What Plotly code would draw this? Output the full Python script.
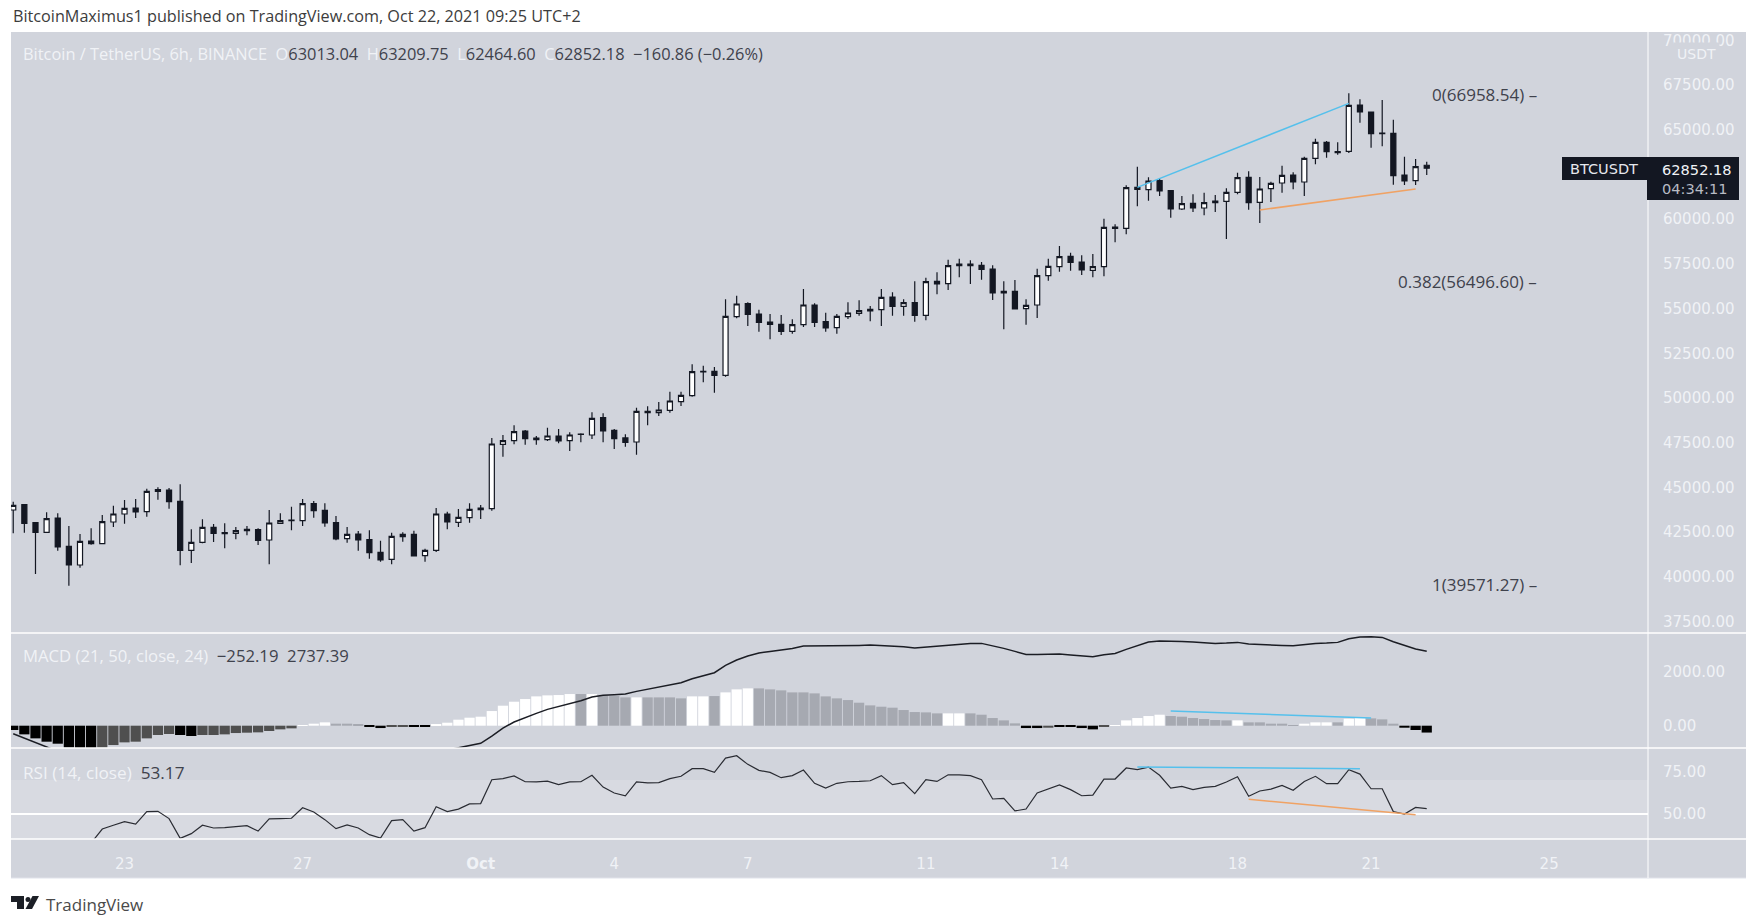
import pandas as pd
import plotly.graph_objects as go

W, H = 1753, 920

OPEN = [43743,44041,43035,42495,43296,41712,40669,42010,41861,43072,43520,43855,43650,44880,44861,44227,41489,41936,42774,42476,42439,42663,42644,42067,42998,43184,43147,44097,43724,43035,42141,42402,42085,41377,40986,42253,42383,41191,41489,43520,43054,43315,43855,43818,47413,47618,48158,47767,47674,47879,47618,47972,47935,48905,48197,47769,47545,49259,49185,49315,49799,50135,51495,51495,51271,54550,55277,54699,54252,54122,53730,54103,55202,54271,53935,54550,54736,54960,54941,55649,55127,55332,54625,56525,56394,57494,57494,57419,57214,55966,55966,54997,55202,56843,57346,57924,57607,57141,57346,59563,59489,61780,61650,62153,61594,60569,60886,60625,61016,60998,61501,62339,60942,61706,62022,62470,62078,63401,64295,63774,63792,66382,65991,64780,64798,62470,62153,63013.04]
HIGH = [44209,44078,43054,43613,43557,42849,42402,42719,43464,43985,44302,44358,44935,45010,44973,45178,42663,43221,42961,42998,42793,42849,42719,43743,43557,43929,44358,44246,44116,43408,42793,42569,42607,42029,42476,42495,42588,41582,43855,43650,43799,44116,44022,47767,47935,48475,48214,47879,48345,48270,48084,48028,49202,49147,48272,47974,49464,49539,49781,50358,50358,51886,51811,51737,55519,55724,55351,54941,54699,54643,54401,56096,55295,54774,54699,55351,55463,55146,56096,55910,55519,56525,56730,57028,57736,57792,57698,57605,57419,56525,56599,55519,57233,57794,58501,58129,57980,58054,60029,59712,61892,62935,62339,62283,61631,61296,61389,61482,61352,61724,62600,62675,62358,62097,62991,62619,63494,64500,64370,64295,67034,66699,66009,66661,65562,63494,63364,63209.75]
LOW = [42439,42476,40166,42495,41470,39514,40520,41805,41861,42793,42979,43296,43370,44321,43818,40650,40781,41880,41955,41601,42104,42327,41787,40706,42998,42607,42849,43315,42812,42048,41917,41470,41023,40855,40706,41973,41172,40855,41396,42663,42793,43035,43240,43706,46724,47413,47395,47395,47600,47469,47041,47525,47711,47527,47154,47284,46837,48477,48998,49185,49557,50079,50880,50302,51197,54457,54028,53712,53283,53525,53600,53973,53973,53712,53600,54420,54606,54289,54028,54606,54606,54270,54345,55798,56040,56748,56376,56618,55482,53842,54960,54103,54475,56564,57067,57123,56881,56750,56806,58706,59153,60718,61035,61296,60085,60513,60402,60215,60402,58893,61389,60532,59787,60961,61482,61669,61296,63066,63438,63606,63699,65395,63997,64072,61929,61910,61910,62464.60]
CLOSE = [44004,43000,42495,43259,41675,40669,41992,41861,43091,43520,43836,43631,44787,44787,44209,41489,41936,42774,42439,42420,42588,42588,42048,43017,43147,43147,44097,43706,43017,42122,42383,42067,41358,40949,42271,42383,41172,41489,43520,43072,43333,43780,43762,47432,47618,48121,47730,47674,47879,47600,47935,47991,48866,48160,47732,47527,49259,49185,49334,49837,50153,51476,51457,51271,54569,55258,54680,54233,54122,53730,54103,55202,54233,53917,54569,54755,54885,54867,55631,55127,55332,54625,56506,56376,57400,57400,57400,57195,55873,55873,54979,55183,56841,57365,57905,57589,57160,57346,59545,59489,61762,61669,62134,61575,60569,60868,60625,60923,60923,61501,62321,60923,61687,62004,62451,62078,63401,64295,63774,63718,66363,65991,64780,64817,62432,62134,62935,62852.18]

MACD_LINE = [-294,-453,-613,-772,-943,None,None,None,None,None,None,None,None,None,None,None,None,None,None,None,None,None,None,None,None,None,None,None,None,None,None,None,None,None,None,None,None,None,None,-894,-821,-735,-649,-380,-86,135,306,453,600,698,796,919,1054,1115,1139,1164,1262,1335,1409,1495,1580,1727,1838,1948,2217,2413,2560,2671,2732,2781,2842,2928,2928,2940,2940,2952,2952,2965,2952,2940,2903,2854,2891,2916,2965,3001,3026,3026,2940,2842,2732,2622,2622,2634,2634,2597,2573,2536,2609,2658,2805,2952,3075,3112,3112,3099,3075,3050,3026,3038,3063,3001,2977,2965,2952,2940,2989,3026,3038,3063,3197,3259,3271,3246,3087,2940,2818,2737.39]
MACD_HIST = [-159,-319,-466,-588,-662,-809,-833,-833,-809,-711,-613,-588,-466,-343,-306,-343,-380,-343,-343,-319,-270,-257,-245,-196,-135,-98,25,74,123,74,74,61,-25,-86,-37,-12,-49,-49,61,110,221,294,331,539,735,882,980,1078,1115,1127,1164,1164,1164,1103,1090,1041,1041,1041,1041,1041,1005,1078,1078,1090,1225,1335,1372,1372,1335,1299,1225,1225,1188,1078,1005,943,845,747,698,662,576,502,490,453,453,453,453,404,282,196,86,-86,-86,-74,-49,-37,-86,-135,-37,25,196,282,355,404,355,331,282,245,208,196,196,123,123,74,74,25,74,123,123,123,257,282,270,233,74,-74,-159,-252.19]
HIST_KIND = list("bbbbbbbbdddddddbbdddddddddwwwgggbbddbbwwwwwwwwwwwwwgwgggwggggwwgwwwgggggggggggggggggwwgggggbbdbbbbdwwwwwggggggwgggggwwwgwwgggbbb")

RSI = [None,None,None,None,None,None,None,33.0,41.2,43.4,45.5,44.1,51.4,51.6,47.3,35.7,38.5,43.4,41.8,42.0,42.8,43.2,40.0,47.1,47.3,47.5,53.7,51.2,46.7,41.4,43.6,41.8,37.9,35.9,46.1,46.7,40.0,42.0,54.3,51.4,52.9,55.9,56.1,70.1,70.7,72.3,68.9,68.8,69.3,67.2,68.8,68.9,72.7,65.8,62.3,60.7,68.8,68.2,68.4,70.7,72.1,76.6,76.6,74.4,82.8,84.2,79.1,75.6,74.4,71.3,72.5,75.8,68.0,65.2,68.0,68.9,69.1,69.5,72.5,67.2,68.4,61.9,70.1,69.1,73.0,73.0,72.5,70.1,58.8,59.2,51.8,52.9,62.3,64.6,67.0,64.3,60.7,61.1,70.5,70.5,77.0,76.0,77.5,72.7,65.2,66.2,64.3,65.6,66.2,68.8,71.9,60.4,63.5,64.6,66.8,63.9,69.1,72.1,67.8,67.8,76.0,73.4,64.8,64.8,51.4,50.0,53.9,53.17]

FIB_LEVELS = [66958.54, 56496.60, 39571.27]
FIB_LABELS = ["0(66958.54) –", "0.382(56496.60) –", "1(39571.27) –"]

DRAW_BLUE_PRICE = [61780, 66475]
DRAW_ORANGE_PRICE = [60513, 61687]
DRAW_BLUE_MACD = [539, 282]
DRAW_BLUE_RSI = [77.5, 76.6]
DRAW_ORANGE_RSI = [58.6, 49.6]

# 62500 is hidden behind the price tag in the reference
PRICE_TICKS = [37500,40000,42500,45000,47500,50000,52500,55000,57500,60000,65000,67500,70000]
MACD_TICKS = [0, 2000]
RSI_TICKS = [50, 75]
DATE_TICKS = ["2021-09-23","2021-09-27","2021-10-01","2021-10-04","2021-10-07","2021-10-11","2021-10-14","2021-10-18","2021-10-21","2021-10-25"]
DATE_LABELS = ["23","27","<b>Oct</b>","4","7","11","14","18","21","25"]

times = pd.date_range("2021-09-20 12:00", periods=len(CLOSE), freq="6h")
T = [t.strftime("%Y-%m-%d %H:%M") for t in times]

PANEL = "#d1d4dc"
BAND = "#d8dae1"
LIGHT = "#f0f2f6"
DARK = "#131722"
TEXT = "#3f424c"
BLUE = "#55c0ec"
ORANGE = "#f0a264"
KIND_COLOR = {"b": "#000000", "d": "#4f4f4f", "w": "#ffffff", "g": "#a6a9b1"}
FONT = "DejaVu Sans"
FONT2 = "Open Sans"

def X(px):
    return px / W

def Y(py):
    return 1 - py / H

fig = go.Figure()

fig.add_trace(go.Candlestick(
    x=T, open=OPEN, high=HIGH, low=LOW, close=CLOSE, xaxis="x", yaxis="y",
    increasing=dict(line=dict(color=DARK, width=1.2), fillcolor="#ffffff"),
    decreasing=dict(line=dict(color=DARK, width=1.2), fillcolor=DARK),
    whiskerwidth=0, showlegend=False))
fig.add_trace(go.Scatter(x=[T[101], T[120]], y=DRAW_BLUE_PRICE, mode="lines", line=dict(color=BLUE, width=1.5), yaxis="y", showlegend=False))
fig.add_trace(go.Scatter(x=[T[112], T[126]], y=DRAW_ORANGE_PRICE, mode="lines", line=dict(color=ORANGE, width=1.5), yaxis="y", showlegend=False))

fig.add_trace(go.Bar(x=T, y=MACD_HIST, yaxis="y2", width=6*3600*1000*0.92,
                     marker=dict(color=[KIND_COLOR[k] for k in HIST_KIND], line=dict(width=0)), showlegend=False))
fig.add_trace(go.Scatter(x=T, y=MACD_LINE, mode="lines", line=dict(color="#1b1d24", width=1.5), yaxis="y2", connectgaps=False, showlegend=False))
fig.add_trace(go.Scatter(x=[T[104], T[122]], y=DRAW_BLUE_MACD, mode="lines", line=dict(color=BLUE, width=1.5), yaxis="y2", showlegend=False))

fig.add_trace(go.Scatter(x=T, y=RSI, mode="lines", line=dict(color="#2a2c33", width=1.2), yaxis="y3", showlegend=False))
fig.add_trace(go.Scatter(x=[T[101], T[121]], y=DRAW_BLUE_RSI, mode="lines", line=dict(color=BLUE, width=1.5), yaxis="y3", showlegend=False))
fig.add_trace(go.Scatter(x=[T[111], T[126]], y=DRAW_ORANGE_RSI, mode="lines", line=dict(color=ORANGE, width=1.5), yaxis="y3", showlegend=False))

RSI_RANGE = [35.35, 88.7]

def hline(py, color="#ffffff", width=1.5):
    return dict(type="line", xref="paper", yref="paper", x0=X(11), x1=X(1746), y0=Y(py), y1=Y(py),
                line=dict(color=color, width=width), layer="above")

shapes = [
    dict(type="rect", xref="paper", yref="paper", x0=X(11), x1=X(1746), y0=Y(878), y1=Y(32),
         fillcolor=PANEL, line=dict(width=0), layer="below"),
    dict(type="rect", xref="paper", yref="y3", x0=X(11), x1=X(1648), y0=RSI_RANGE[0], y1=70,
         fillcolor=BAND, line=dict(width=0), layer="below"),
    dict(type="line", xref="paper", yref="y3", x0=X(11), x1=X(1648), y0=50, y1=50,
         line=dict(color="#ffffff", width=2), layer="below"),
    hline(633), hline(748), hline(839), hline(878, "#e0e3eb", 1),
    dict(type="line", xref="paper", yref="paper", x0=X(1648), x1=X(1648), y0=Y(878), y1=Y(32),
         line=dict(color="#ffffff", width=1), layer="above"),
    dict(type="rect", xref="paper", yref="paper", x0=X(1562), x1=X(1648), y0=Y(180), y1=Y(157),
         fillcolor=DARK, line=dict(width=0), layer="above"),
    dict(type="rect", xref="paper", yref="paper", x0=X(1647), x1=X(1739), y0=Y(200), y1=Y(157),
         fillcolor=DARK, line=dict(width=0), layer="above"),
]
# TradingView mark
shapes += [
    dict(type="path", xref="paper", yref="paper", layer="above", fillcolor="#1c1f26", line=dict(width=0),
         path=f"M {X(11)} {Y(896)} L {X(24)} {Y(896)} L {X(24)} {Y(909)} L {X(17)} {Y(909)} L {X(17)} {Y(902)} L {X(11)} {Y(902)} Z"),
    dict(type="circle", xref="paper", yref="paper", layer="above", fillcolor="#1c1f26", line=dict(width=0),
         x0=X(25.5), x1=X(30.5), y0=Y(902), y1=Y(897)),
    dict(type="path", xref="paper", yref="paper", layer="above", fillcolor="#1c1f26", line=dict(width=0),
         path=f"M {X(32.5)} {Y(896)} L {X(39)} {Y(896)} L {X(32)} {Y(909)} L {X(25.5)} {Y(909)} Z"),
]

def pt(px, py, text, color=LIGHT, size=14, anchor="left", family=FONT, **kw):
    return dict(xref="paper", yref="paper", x=X(px), y=Y(py), text=text, showarrow=False, xanchor=anchor,
                yanchor="middle", font=dict(family=family, size=size, color=color), **kw)

def sp(text, color):
    return f'<span style="color:{color}">{text}</span>'

legend_main = (sp("Bitcoin / TetherUS, 6h, BINANCE&nbsp;&nbsp;O", LIGHT) + sp("63013.04&nbsp;&nbsp;", TEXT) + sp("H", LIGHT) +
               sp("63209.75&nbsp;&nbsp;", TEXT) + sp("L", LIGHT) + sp("62464.60&nbsp;&nbsp;", TEXT) + sp("C", LIGHT) +
               sp("62852.18&nbsp;&nbsp;−160.86 (−0.26%)", TEXT))
annotations = [
    pt(11, 16, "BitcoinMaximus1 published on TradingView.com, Oct 22, 2021 09:25 UTC+2", "#3c3c3c", 16.2, family=FONT2),
    pt(21, 54, legend_main, LIGHT, 16.4, family=FONT2),
    pt(21, 655, sp("MACD (21, 50, close, 24)&nbsp;&nbsp;", LIGHT) + sp("−252.19&nbsp;&nbsp;2737.39", TEXT), LIGHT, 16.7, family=FONT2),
    pt(21, 772, sp("RSI (14, close)&nbsp;&nbsp;", LIGHT) + sp("53.17", TEXT), LIGHT, 17.2, family=FONT2),
    pt(1696, 54, "USDT", LIGHT, 14, "center", bgcolor=PANEL, borderpad=3),
    pt(1568, 169, "BTCUSDT", "#e6e8ee", 14.5),
    pt(1660, 169, "62852.18", "#f0f2f6", 14.6),
    pt(1660, 189, "04:34:11", "#b8bbc4", 14.6),
    pt(44, 904, "TradingView", "#4a4a4a", 17, family=FONT2),
]
for lvl, lab in zip(FIB_LEVELS, FIB_LABELS):
    annotations.append(dict(xref="paper", yref="y", x=X(1539), y=lvl, text=lab, showarrow=False, xanchor="right",
                            yanchor="middle", font=dict(family=FONT2, size=17, color=TEXT)))

def yax(domain, rng, ticks, fmt=".2f"):
    return dict(domain=domain, range=rng, tickvals=ticks, tickformat=fmt, side="right", anchor="x",
                showgrid=False, zeroline=False, showline=False, ticks="outside", ticklen=11, tickcolor="rgba(0,0,0,0)",
                tickfont=dict(family=FONT, size=15, color=LIGHT), fixedrange=True)

fig.update_layout(
    width=W, height=H, margin=dict(l=0, r=0, t=0, b=0), autosize=False,
    paper_bgcolor="#ffffff", plot_bgcolor="rgba(0,0,0,0)",
    boxgap=0.35, bargap=0.08, hovermode=False,
    xaxis=dict(domain=[X(11), X(1648)], anchor="y3", range=["2021-09-20 10:48", "2021-10-27 05:17"],
               tickvals=DATE_TICKS, ticktext=DATE_LABELS, showgrid=False, zeroline=False, showline=False,
               ticks="outside", ticklen=11, tickcolor="rgba(0,0,0,0)", rangeslider=dict(visible=False),
               tickfont=dict(family=FONT, size=15, color=LIGHT), tickangle=0),
    yaxis=yax([Y(633), Y(32)], [36867, 70463], PRICE_TICKS),
    yaxis2=yax([Y(748), Y(633)], [-820, 3408], MACD_TICKS),
    yaxis3=yax([Y(839), Y(748)], RSI_RANGE, RSI_TICKS),
    shapes=shapes, annotations=annotations,
)

fig.write_html("out.html", post_script="document.body.style.margin='0';", config=dict(displayModeBar=False))
